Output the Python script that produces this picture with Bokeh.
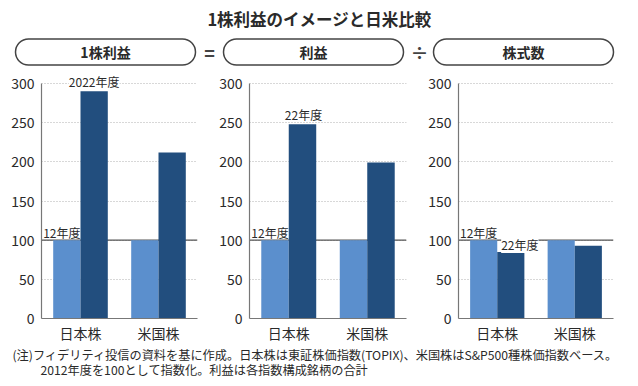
from bokeh.plotting import figure
from bokeh.models import (Range1d, FactorRange, ColumnDataSource, LabelSet, Span,
                          FixedTicker)
from bokeh.transform import dodge
from bokeh.layouts import column, row
from bokeh.core.properties import value
from bokeh.embed import file_html
from bokeh.resources import INLINE

# ---------------- data ----------------
title = "1株利益のイメージと日米比較"
panel_titles = ["1株利益", "利益", "株式数"]
operators = ["=", "÷"]
groups = ["日本株", "米国株"]
base_2012 = [100, 100]
eps_2022 = [290, 212]
profit_2022 = [248, 199]
shares_2022 = [85, 93]
latest_labels = ["2022年度", "22年度", "22年度"]
base_label = "12年度"
y_ticks = [0, 50, 100, 150, 200, 250, 300]
note_lines = [
    "(注)フィデリティ投信の資料を基に作成。日本株は東証株価指数(TOPIX)、米国株はS&P500種株価指数ベース。",
    "2012年度を100として指数化。利益は各指数構成銘柄の合計",
]

LIGHT = "#5b8fcd"
DARK = "#224e7e"
TXT = "#2a2a2a"
JP = "Noto Sans CJK JP"
NUM = "Liberation Sans Narrow, Noto Sans CJK JP"

W = 636

# ---------------- header (title + pills) ----------------
H_TOP = 66
hdr = figure(width=W, height=H_TOP, x_range=Range1d(0, W), y_range=Range1d(H_TOP, 0),
             output_backend="svg", toolbar_location=None, min_border=0)
hdr.axis.visible = False
hdr.grid.visible = False
hdr.outline_line_color = None

hdr.text(x=[319], y=[18], text=[title], text_font=value(JP), text_font_size="16.5px",
         text_font_style="bold", text_align="center", text_baseline="middle", text_color=TXT)

pill_left = [15, 223, 433]
pill_right = [195, 403, 613]
hdr.quad(left=pill_left, right=pill_right, top=[38.5] * 3, bottom=[64.5] * 3,
         fill_color="white", line_color="#444444", line_width=1.5, border_radius=13)
hdr.text(x=[(a + b) / 2 for a, b in zip(pill_left, pill_right)], y=[51.5] * 3, text=panel_titles,
         text_font=value(JP), text_font_size="14px", text_font_style="bold",
         text_align="center", text_baseline="middle", text_color=TXT)
hdr.text(x=[209, 419], y=[51, 51], text=operators, text_font=value(JP), text_font_size="18px",
         text_font_style="bold", text_align="center", text_baseline="middle", text_color="#444444")

# ---------------- panels ----------------
Y_TOP = 300 * 247 / 235   # extra headroom above 300 for the labels, same scale


def make_panel(latest, latest_label, border_left, frame_w, border_right,
               base_dx, latest_dx, latest_dy, latest_bg):
    p = figure(x_range=FactorRange(*groups), y_range=Range1d(0, Y_TOP),
               frame_width=frame_w, frame_height=247,
               min_border_left=border_left, min_border_right=border_right,
               min_border_top=5, min_border_bottom=25,
               output_backend="svg", toolbar_location=None)
    p.outline_line_color = None
    p.xgrid.visible = False
    p.ygrid.grid_line_color = "#b0b0b0"
    p.ygrid.grid_line_dash = "1 2"
    p.ygrid.grid_line_width = 1

    src = ColumnDataSource(dict(g=groups, base=base_2012, latest=latest))
    p.vbar(x=dodge("g", -0.175, range=p.x_range), top="base", width=0.35, source=src,
           fill_color=LIGHT, line_color=None)
    p.vbar(x=dodge("g", 0.175, range=p.x_range), top="latest", width=0.35, source=src,
           fill_color=DARK, line_color=None)

    p.add_layout(Span(location=100, dimension="width", line_color="#555555", line_width=1.2,
                      level="underlay"))

    lab = ColumnDataSource(dict(g=[groups[0]], y=[base_2012[0]], t=[base_label]))
    p.add_layout(LabelSet(x=dodge("g", -0.175, range=p.x_range), y="y", text="t", source=lab,
                          text_font=value(NUM), text_font_size="12px", text_color=TXT,
                          text_align="center", text_baseline="alphabetic", y_offset=2,
                          x_offset=base_dx))
    lab2 = ColumnDataSource(dict(g=[groups[0]], y=[latest[0]], t=[latest_label]))
    p.add_layout(LabelSet(x=dodge("g", 0.175, range=p.x_range), y="y", text="t", source=lab2,
                          text_font=value(NUM), text_font_size="12px", text_color=TXT,
                          text_align="center", text_baseline="alphabetic", y_offset=latest_dy,
                          x_offset=latest_dx,
                          background_fill_color="white" if latest_bg else None))

    p.yaxis.ticker = FixedTicker(ticks=y_ticks)
    p.yaxis.bounds = (0, 300)
    for ax in (p.xaxis[0], p.yaxis[0]):
        ax.axis_line_color = "#777777"
        ax.axis_line_width = 1.2
        ax.major_tick_out = 0
        ax.major_tick_in = 0
        ax.minor_tick_out = 0
        ax.minor_tick_in = 0
        ax.major_tick_line_color = None
        ax.minor_tick_line_color = None
        ax.major_label_text_color = TXT
    p.yaxis.major_label_text_font = NUM
    p.yaxis.major_label_text_font_size = "14px"
    p.yaxis.major_label_standoff = 7
    p.xaxis.major_label_text_font = JP
    p.xaxis.major_label_text_font_size = "14px"
    p.xaxis.major_label_standoff = 4
    return p


p1 = make_panel(eps_2022, latest_labels[0], 41, 156, 11, -5, 0, 4, True)
p2 = make_panel(profit_2022, latest_labels[1], 41, 157, 11, -5, 1, 4, False)
p3 = make_panel(shares_2022, latest_labels[2], 41, 155, 23, -5, 9, 2, True)

# ---------------- footer ----------------
ftr = figure(width=W, height=40, x_range=Range1d(0, W), y_range=Range1d(40, 0),
             output_backend="svg", toolbar_location=None, min_border=0)
ftr.axis.visible = False
ftr.grid.visible = False
ftr.outline_line_color = None
ftr.text(x=[12, 40], y=[9, 24], text=note_lines, text_font=value(JP), text_font_size="12.2px",
         text_align="left", text_baseline="middle", text_color=TXT)

layout = column(hdr, row(p1, p2, p3), ftr)
open("out.html", "w").write(file_html(layout, INLINE))
